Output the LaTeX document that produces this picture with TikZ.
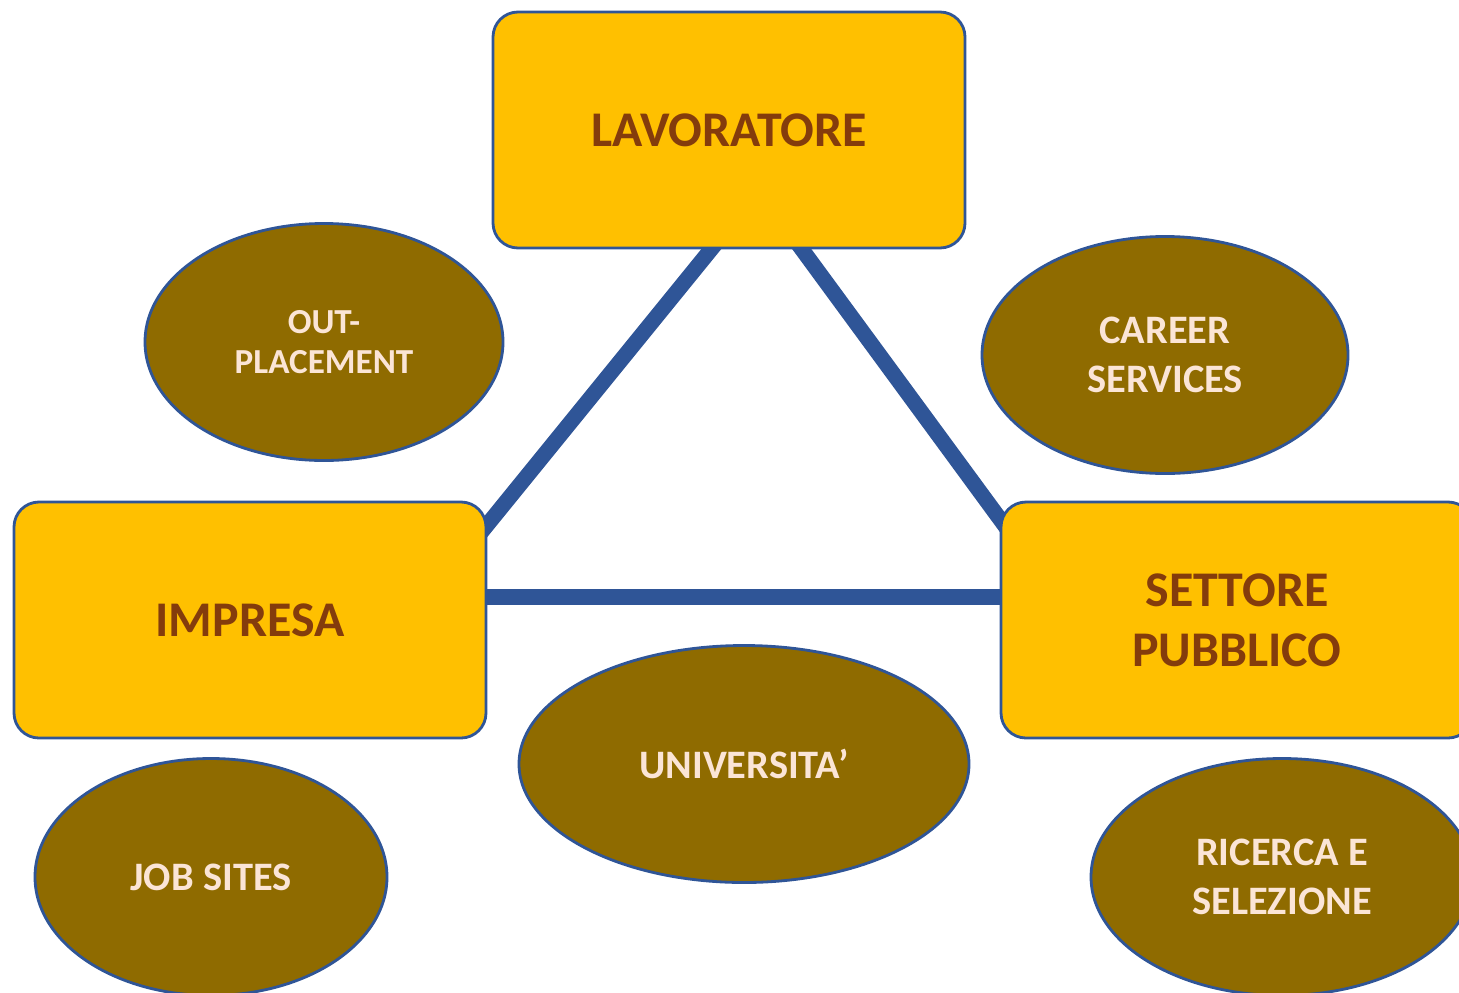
\documentclass[tikz,border=0pt]{standalone}
\usepackage{fontspec}
\setmainfont{Carlito}
\usetikzlibrary{shapes.geometric,calc,backgrounds}

\definecolor{mGold}{HTML}{FFC000}
\definecolor{mRust}{HTML}{843C0C}
\definecolor{mOlive}{HTML}{8F6B00}
\definecolor{mCream}{HTML}{FBE5D6}
\definecolor{mBlue}{HTML}{2F5597}

\begin{document}
\begin{tikzpicture}[
  actor/.style={draw=mBlue, line width=0.8pt, fill=mGold, rounded corners=0.25cm,
    minimum width=4.72cm, minimum height=2.36cm, align=center, text=mRust,
    font=\fontsize{14.2}{17}\selectfont\bfseries},
  channel/.style={ellipse, draw=mBlue, line width=0.8pt, fill=mOlive, inner sep=0pt,
    minimum height=2.37cm, align=center, text=mCream,
    font=\fontsize{11.5}{14}\selectfont\bfseries},
  link/.style={mBlue, line width=4.4pt, shorten <=-4pt, shorten >=-4pt}
]
\useasboundingbox (0, 0) rectangle (14.59, 9.92);
\clip (0, 0) rectangle (14.59, 9.92);

\node[actor] (lav) at (7.29, 8.62) {LAVORATORE};
\node[actor] (imp) at (2.50, 3.72) {IMPRESA};
\node[actor] (set) at (12.37, 3.72) {SETTORE\\PUBBLICO};

\node[channel, minimum width=3.58cm, font=\fontsize{10}{11.5}\selectfont\bfseries] (out) at (3.24, 6.50) {OUT-\\PLACEMENT};
\node[channel, minimum width=3.66cm] (car) at (11.65, 6.37) {CAREER\\SERVICES};
\node[channel, minimum width=4.50cm] (uni) at (7.44, 2.28) {UNIVERSITA’};
\node[channel, minimum width=3.52cm] (job) at (2.11, 1.15) {JOB SITES};
\node[channel, minimum width=3.82cm] (ric) at (12.82, 1.15) {RICERCA E\\SELEZIONE};

\coordinate (lavL) at ($(lav.south)+(-0.18, 0)$);
\coordinate (lavR) at ($(lav.south)+(0.73, 0)$);
\coordinate (impT) at ($(imp.north east)+(0, -0.24)$);
\coordinate (impM) at ($(imp.east)+(0, 0.23)$);
\coordinate (setT) at ($(set.north west)+(0, -0.18)$);
\coordinate (setM) at ($(set.west)+(0, 0.23)$);

\begin{scope}[on background layer]
\draw[link] (lavL) -- (impT);
\draw[link] (lavR) -- (setT);
\draw[link] (impM) -- (setM);
\end{scope}

\end{tikzpicture}
\end{document}
